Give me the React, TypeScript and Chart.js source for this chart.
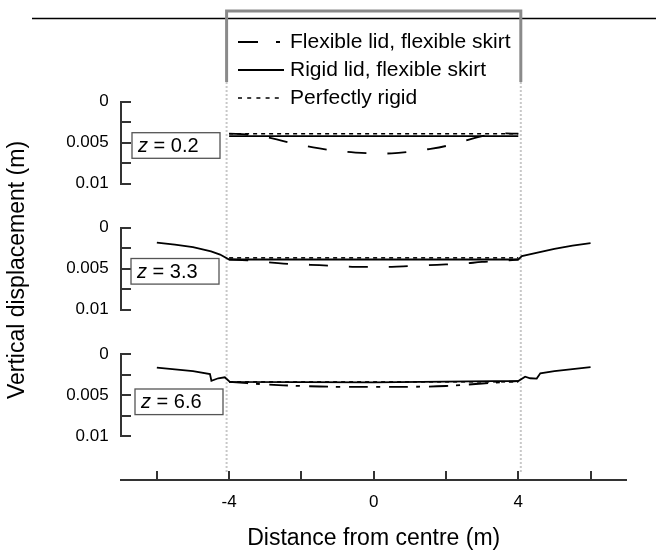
import React, { useEffect, useRef } from 'react';
import { Chart, registerables } from 'chart.js';

Chart.register(...registerables);

const FONT = "'Liberation Sans', Arial, Helvetica, sans-serif";

// ---- axes ----
const X_MIN = -7;
const X_MAX = 7;
const X_TICKS = [-6, -4, -2, 0, 2, 4, 6];
const X_LABELED = [-4, 0, 4];
const Y_TICKS = [0, 0.0025, 0.005, 0.0075, 0.01];
const Y_LABELED = [0, 0.005, 0.01];
const Y_LABEL_TEXT = ['0', '0.005', '0.01'];
const PANEL_Z = ['0.2', '3.3', '6.6'];
const SERIES_NAMES = ['Flexible lid, flexible skirt', 'Rigid lid, flexible skirt', 'Perfectly rigid'];
const LID_HALF_WIDTH = 4.07;

// ---- panel 1 : z = 0.2 ----
const p1FlexX = [-4, -3.5, -3, -2.5, -2, -1.5, -1, -0.5, 0, 0.5, 1, 1.5, 2, 2.5, 3, 3.5, 4];
const p1FlexY = [0.0039, 0.004, 0.0043, 0.0048, 0.0053, 0.0057, 0.006, 0.0062, 0.0063, 0.0063, 0.0061, 0.0058, 0.0054, 0.0048, 0.0042, 0.0039, 0.0039];
const p1RigidX = [-4, 4];
const p1RigidY = [0.0042, 0.0042];
const p1PerfX = [-4, 4];
const p1PerfY = [0.0039, 0.0039];

// ---- panel 2 : z = 3.3 ----
const p2FlexX = [-4, -3.5, -3, -2.5, -2, -1.5, -1, -0.5, 0, 0.5, 1, 1.5, 2, 2.5, 3, 3.5, 4];
const p2FlexY = [0.0039, 0.004, 0.0042, 0.0044, 0.0045, 0.0046, 0.0047, 0.0048, 0.0048, 0.0048, 0.0047, 0.0046, 0.0045, 0.0044, 0.0042, 0.0041, 0.0039];
const p2RigidX = [-6, -5.5, -5, -4.5, -4.25, -4, 4, 4.1, 4.5, 5, 5.5, 6];
const p2RigidY = [0.00185, 0.0021, 0.0024, 0.0029, 0.0033, 0.0039, 0.0039, 0.0035, 0.0031, 0.0026, 0.0022, 0.0019];
const p2PerfX = [-4, 4];
const p2PerfY = [0.0037, 0.0037];

// ---- panel 3 : z = 6.6 ----
const p3FlexX = [-4, -3, -2, -1, 0, 1, 2, 3, 4];
const p3FlexY = [0.0034, 0.0037, 0.0039, 0.004, 0.004, 0.004, 0.0039, 0.0036, 0.0033];
const p3RigidX = [-6, -5, -4.53, -4.49, -4.3, -4.12, -3.98, 0, 3.3, 4, 4.19, 4.33, 4.51, 4.61, 5, 6];
const p3RigidY = [0.00167, 0.0021, 0.00244, 0.00326, 0.00296, 0.00284, 0.00341, 0.00345, 0.0033, 0.0033, 0.00277, 0.00296, 0.003, 0.00236, 0.0021, 0.0016];
const p3PerfX = [-4, 4];
const p3PerfY = [0.0034, 0.0034];

const PANELS = [
  { flexX: p1FlexX, flexY: p1FlexY, rigidX: p1RigidX, rigidY: p1RigidY, perfX: p1PerfX, perfY: p1PerfY, flexDash: [19, 21] },
  { flexX: p2FlexX, flexY: p2FlexY, rigidX: p2RigidX, rigidY: p2RigidY, perfX: p2PerfX, perfY: p2PerfY, flexDash: [19, 21] },
  { flexX: p3FlexX, flexY: p3FlexY, rigidX: p3RigidX, rigidY: p3RigidY, perfX: p3PerfX, perfY: p3PerfY, flexDash: [19, 8, 4, 9] },
];

// ---- layout (pixels) ----
const W = 656;
const H = 554;
const AREA_LEFT = 120.7;
const AREA_RIGHT = 626.7;
const AREA_TOP = 60;
const AREA_BOTTOM = 480;
const REGION_H = (AREA_BOTTOM - AREA_TOP) / 3;
const PANEL_ZERO_PX = [101.7, 227.5, 354];
const PX_PER_UNIT = 8200;
const Z_BOX_X = [132, 131, 135];
const Z_BOX_DY = [31, 31, 35];

const pts = (xs: number[], ys: number[]) => xs.map((x, i) => ({ x, y: ys[i] }));

function yScale(k: number) {
  const top = AREA_TOP + REGION_H * k;
  const min = -(PANEL_ZERO_PX[k] - top) / PX_PER_UNIT;
  const max = min + REGION_H / PX_PER_UNIT;
  return {
    type: 'linear',
    position: 'left',
    stack: 'panels',
    stackWeight: 1,
    weight: 3 - k,
    reverse: true,
    min,
    max,
    grid: { display: false, drawTicks: false },
    border: { display: false },
    afterBuildTicks: (s: any) => {
      s.ticks = Y_TICKS.map((v) => ({ value: v }));
    },
    ticks: {
      autoSkip: false,
      padding: 12,
      color: '#000',
      font: { size: 17, family: FONT },
      callback: (v: any) => {
        const i = Y_LABELED.findIndex((t) => Math.abs(t - Number(v)) < 1e-9);
        return i >= 0 ? Y_LABEL_TEXT[i] : '';
      },
    },
    afterFit: (s: any) => {
      s.width = AREA_LEFT;
    },
  };
}

const decoPlugin = {
  id: 'deco',
  beforeDatasetsDraw(chart: any) {
    const { ctx } = chart;
    const xs = chart.scales.x;
    const xl = xs.getPixelForValue(-LID_HALF_WIDTH);
    const xr = xs.getPixelForValue(LID_HALF_WIDTH);
    ctx.save();
    // ground surface
    ctx.strokeStyle = '#000';
    ctx.lineWidth = 1.5;
    ctx.beginPath();
    ctx.moveTo(32, 18.5);
    ctx.lineTo(W, 18.5);
    ctx.stroke();
    // dotted skirt continuation
    ctx.strokeStyle = '#c8c8c8';
    ctx.lineWidth = 2;
    ctx.setLineDash([2, 2]);
    ctx.beginPath();
    ctx.moveTo(xl, 82);
    ctx.lineTo(xl, 472);
    ctx.moveTo(xr, 82);
    ctx.lineTo(xr, 472);
    ctx.stroke();
    ctx.setLineDash([]);
    // bucket
    ctx.strokeStyle = '#8a8a8a';
    ctx.lineWidth = 3;
    ctx.beginPath();
    ctx.moveTo(xl, 82);
    ctx.lineTo(xl, 11);
    ctx.lineTo(xr, 11);
    ctx.lineTo(xr, 82);
    ctx.stroke();
    ctx.restore();
  },
  afterDraw(chart: any) {
    const { ctx } = chart;
    const xs = chart.scales.x;
    ctx.save();
    ctx.strokeStyle = '#333';
    ctx.lineWidth = 2;
    // x tick marks (inward)
    ctx.beginPath();
    X_TICKS.forEach((v) => {
      const px = Math.round(xs.getPixelForValue(v));
      ctx.moveTo(px, AREA_BOTTOM);
      ctx.lineTo(px, AREA_BOTTOM - 9);
    });
    ctx.stroke();
    // panel y axes
    [0, 1, 2].forEach((k) => {
      const ys = chart.scales['y' + (k + 1)];
      const x0 = Math.round(chart.chartArea.left);
      ctx.beginPath();
      ctx.moveTo(x0, ys.getPixelForValue(0));
      ctx.lineTo(x0, ys.getPixelForValue(0.01));
      Y_TICKS.forEach((v) => {
        const py = Math.round(ys.getPixelForValue(v));
        ctx.moveTo(x0 - 1, py);
        ctx.lineTo(x0 + 10, py);
      });
      ctx.stroke();
      // z label box
      const bx = Z_BOX_X[k];
      const by = ys.getPixelForValue(0) + Z_BOX_DY[k];
      const bw = 88;
      const bh = 25.6;
      ctx.fillStyle = '#fff';
      ctx.fillRect(bx, by, bw, bh);
      ctx.save();
      ctx.strokeStyle = '#555';
      ctx.lineWidth = 1.3;
      ctx.strokeRect(bx, by, bw, bh);
      ctx.restore();
      ctx.fillStyle = '#000';
      ctx.textBaseline = 'middle';
      ctx.textAlign = 'left';
      ctx.font = `italic 20px ${FONT}`;
      ctx.fillText('z', bx + 6, by + bh / 2 + 1);
      const zw = ctx.measureText('z').width;
      ctx.font = `20px ${FONT}`;
      ctx.fillText(' = ' + PANEL_Z[k], bx + 6 + zw, by + bh / 2 + 1);
    });
    // legend
    const lx0 = 238;
    const lx1 = 284;
    const rows = [42, 70, 98];
    ctx.strokeStyle = '#000';
    ctx.lineWidth = 1.8;
    ctx.beginPath();
    ctx.moveTo(lx0, rows[0]);
    ctx.lineTo(lx0 + 20, rows[0]);
    ctx.moveTo(lx1 - 8, rows[0]);
    ctx.lineTo(lx1 - 4, rows[0]);
    ctx.moveTo(lx0, rows[1]);
    ctx.lineTo(lx1, rows[1]);
    ctx.stroke();
    ctx.lineWidth = 1.5;
    ctx.setLineDash([4, 5.2]);
    ctx.beginPath();
    ctx.moveTo(lx0, rows[2]);
    ctx.lineTo(lx1, rows[2]);
    ctx.stroke();
    ctx.setLineDash([]);
    ctx.fillStyle = '#000';
    ctx.font = `21px ${FONT}`;
    ctx.textAlign = 'left';
    ctx.textBaseline = 'middle';
    SERIES_NAMES.forEach((name, i) => ctx.fillText(name, 290, rows[i]));
    // y title
    ctx.save();
    ctx.translate(18, 270);
    ctx.rotate(-Math.PI / 2);
    ctx.textAlign = 'center';
    ctx.textBaseline = 'middle';
    ctx.font = `23px ${FONT}`;
    ctx.fillText('Vertical displacement (m)', 0, 0);
    ctx.restore();
    ctx.restore();
  },
};

export default function App() {
  const ref = useRef<HTMLCanvasElement>(null);
  useEffect(() => {
    document.body.style.margin = '0';
    const datasets: any[] = [];
    PANELS.forEach((p, k) => {
      const yAxisID = 'y' + (k + 1);
      datasets.push({
        label: SERIES_NAMES[1],
        data: pts(p.rigidX, p.rigidY),
        yAxisID,
        borderColor: '#000',
        borderWidth: 1.8,
        pointRadius: 0,
        tension: 0,
      });
      datasets.push({
        label: SERIES_NAMES[0],
        data: pts(p.flexX, p.flexY),
        yAxisID,
        borderColor: '#000',
        borderWidth: 1.8,
        borderDash: p.flexDash,
        pointRadius: 0,
        tension: 0.4,
      });
      datasets.push({
        label: SERIES_NAMES[2],
        data: pts(p.perfX, p.perfY),
        yAxisID,
        borderColor: '#000',
        borderWidth: 1.5,
        borderDash: [4, 4],
        pointRadius: 0,
        tension: 0,
      });
    });
    const chart = new Chart(ref.current as HTMLCanvasElement, {
      type: 'line',
      data: { datasets },
      options: {
        animation: false,
        responsive: false,
        devicePixelRatio: 1,
        layout: { padding: { top: AREA_TOP, left: 0, right: W - AREA_RIGHT, bottom: 0 } },
        plugins: { legend: { display: false }, tooltip: { enabled: false } },
        scales: {
          x: {
            type: 'linear',
            position: 'bottom',
            min: X_MIN,
            max: X_MAX,
            grid: { display: false, drawTicks: false },
            border: { display: true, color: '#333', width: 2 },
            afterBuildTicks: (s: any) => {
              s.ticks = X_TICKS.map((v) => ({ value: v }));
            },
            ticks: {
              autoSkip: false,
              maxRotation: 0,
              padding: 12,
              color: '#000',
              font: { size: 17, family: FONT },
              callback: (v: any) => (X_LABELED.includes(Number(v)) ? String(v) : ''),
            },
            title: {
              display: true,
              text: 'Distance from centre (m)',
              color: '#000',
              font: { size: 23, family: FONT },
              padding: { top: 0, bottom: 2 },
            },
            afterFit: (s: any) => {
              s.height = H - AREA_BOTTOM;
            },
          },
          y1: yScale(0),
          y2: yScale(1),
          y3: yScale(2),
        } as any,
      },
      plugins: [decoPlugin],
    } as any);
    return () => chart.destroy();
  }, []);
  return <canvas ref={ref} width={W} height={H} style={{ display: 'block', width: W, height: H }} />;
}
